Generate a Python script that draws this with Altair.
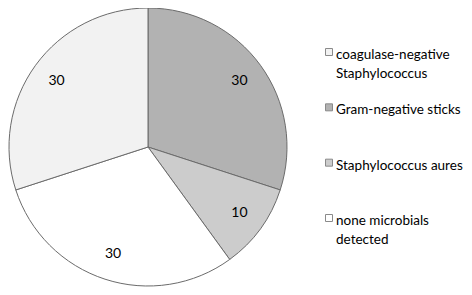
import altair as alt
import pandas as pd

# slice data, in drawing order (clockwise from 12 o'clock)
slice_names = ["Gram-negative sticks", "Staphylococcus aures",
               "none microbials detected", "coagulase-negative Staphylococcus"]
slice_values = [30, 10, 30, 30]

# legend order and colours
legend_names = ["coagulase-negative Staphylococcus", "Gram-negative sticks",
                "Staphylococcus aures", "none microbials detected"]
legend_line1 = ["coagulase-negative", "Gram-negative sticks",
                "Staphylococcus aures", "none microbials"]
legend_line2 = ["Staphylococcus", "", "", "detected"]
legend_colors = ["#f2f2f2", "#b2b2b2", "#cccccc", "#ffffff"]

pie_df = pd.DataFrame({"name": slice_names, "value": slice_values,
                       "idx": list(range(len(slice_names)))})
leg_df = pd.DataFrame({"name": legend_names, "l1": legend_line1, "l2": legend_line2})

FONT = "Lato"
color_scale = alt.Scale(domain=legend_names, range=legend_colors)
cx, cy, R = 140, 139, 139

base = alt.Chart(pie_df).encode(
    theta=alt.Theta("value:Q", stack=True),
    order=alt.Order("idx:Q"),
    x=alt.value(cx), y=alt.value(cy),
)
arcs = base.mark_arc(radius=R, stroke="#6b6b6b", strokeWidth=1).encode(
    color=alt.Color("name:N", scale=color_scale, legend=None)
)
labels = base.mark_text(radius=113, font=FONT, fontSize=14, color="#000000").encode(
    text=alt.Text("value:Q")
)

yscale = alt.Scale(domain=legend_names, range=[44, 210], padding=0)
leg = alt.Chart(leg_df).encode(y=alt.Y("name:N", scale=yscale, axis=None))
squares = leg.mark_square(size=49, stroke="#8a8a8a", strokeWidth=1, opacity=1).encode(
    x=alt.value(321),
    fill=alt.Fill("name:N", scale=color_scale, legend=None),
)
text1 = leg.mark_text(align="left", baseline="middle", dy=3, font=FONT, fontSize=13.5,
                      color="#000000").encode(x=alt.value(328), text="l1:N")
text2 = leg.mark_text(align="left", baseline="middle", dy=22, font=FONT, fontSize=13.5,
                      color="#000000").encode(x=alt.value(328), text="l2:N")

chart = alt.layer(arcs, labels, squares, text1, text2).properties(
    width=456, height=279, padding=0,
    autosize=alt.AutoSizeParams(type="none"),
    background="#ffffff",
).configure_view(stroke=None)

chart.save("out.html", embed_options={"renderer": "svg", "actions": False})
